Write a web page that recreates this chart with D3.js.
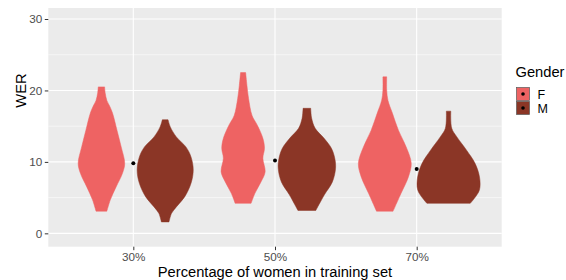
<!DOCTYPE html>
<html>
<head>
<meta charset="utf-8">
<script src="https://cdn.jsdelivr.net/npm/d3@7"></script>
<style>
  html, body { margin: 0; padding: 0; background: #ffffff; }
  svg { display: block; font-family: "Liberation Sans", Arial, Helvetica, sans-serif; }
</style>
</head>
<body>
<svg id="chart" width="566" height="280"></svg>
<script>
// ---------------- data ----------------
const categories = ["30%", "50%", "70%"];
const genders = ["F", "M"];
const genderColors = ["#EE6363", "#8B3626"];
const yTicks = [0, 10, 20, 30];
const yMinorTicks = [5, 15, 25];
// overall mean WER per training mix (black points)
const meanWER = [9.8, 10.2, 9.0];

// violin profiles: [WER, relative density (1 = widest violin)]
const violinF30 = [[3.1,0.17],[4.7,0.28],[6.5,0.46],[8.4,0.66],[9.8,0.73],[12.1,0.62],[14.4,0.49],[16.8,0.35],[17.7,0.27],[18.6,0.17],[19.6,0.12],[20.5,0.10]];
const violinM30 = [[1.6,0.12],[2.8,0.20],[3.7,0.35],[5.1,0.61],[7.0,0.81],[8.85,0.88],[10.7,0.81],[12.1,0.65],[13.5,0.35],[14.9,0.16],[15.9,0.09]];
const violinF50 = [[4.2,0.25],[5.6,0.37],[7.2,0.56],[8.6,0.69],[10.5,0.62],[11.9,0.67],[13.3,0.62],[15.1,0.45],[16.5,0.28],[18.9,0.17],[20.7,0.12],[22.5,0.08]];
const violinM50 = [[3.2,0.28],[5.4,0.55],[7.2,0.80],[9.1,0.90],[10.5,0.875],[11.9,0.77],[13.3,0.54],[14.7,0.26],[16.1,0.15],[17.5,0.12]];
const violinF70 = [[3.1,0.26],[5.6,0.51],[7.9,0.74],[9.8,0.83],[12.1,0.67],[14.4,0.43],[16.8,0.24],[18.6,0.10],[20.0,0.06],[21.9,0.06]];
const violinM70 = [[4.2,0.68],[4.9,0.81],[6.1,0.97],[7.9,0.97],[9.8,0.83],[11.6,0.57],[13.5,0.26],[14.7,0.10],[17.1,0.07]];

const violins = [
  { cat: "30%", gender: "F", profile: violinF30 },
  { cat: "30%", gender: "M", profile: violinM30 },
  { cat: "50%", gender: "F", profile: violinF50 },
  { cat: "50%", gender: "M", profile: violinM50 },
  { cat: "70%", gender: "F", profile: violinF70 },
  { cat: "70%", gender: "M", profile: violinM70 }
];

// ---------------- layout ----------------
const panel = { left: 48.3, right: 501.7, top: 8, bottom: 246.7 };
const svg = d3.select("#chart");

const x = d3.scalePoint().domain(categories).range([panel.left, panel.right]).padding(0.6);
const step = x.step();
const y = d3.scaleLinear().domain([-1.87, 31.54]).range([panel.bottom, panel.top]);
const dodge = d3.scaleOrdinal().domain(genders).range([-0.225 * step, 0.225 * step]);
const halfW = d3.scaleLinear().domain([0, 1]).range([0, 0.225 * step]);
const color = d3.scaleOrdinal().domain(genders).range(genderColors);

// panel background
svg.append("rect")
  .attr("x", panel.left).attr("y", panel.top)
  .attr("width", panel.right - panel.left).attr("height", panel.bottom - panel.top)
  .attr("fill", "#EBEBEB");

// grid
svg.append("g").selectAll("line").data(yMinorTicks).join("line")
  .attr("x1", panel.left).attr("x2", panel.right)
  .attr("y1", d => y(d)).attr("y2", d => y(d))
  .attr("stroke", "#ffffff").attr("stroke-width", 0.55);
svg.append("g").selectAll("line").data(yTicks).join("line")
  .attr("x1", panel.left).attr("x2", panel.right)
  .attr("y1", d => y(d)).attr("y2", d => y(d))
  .attr("stroke", "#ffffff").attr("stroke-width", 1.1);
svg.append("g").selectAll("line").data(categories).join("line")
  .attr("x1", d => x(d)).attr("x2", d => x(d))
  .attr("y1", panel.top).attr("y2", panel.bottom)
  .attr("stroke", "#ffffff").attr("stroke-width", 1.1);

// violins
const area = d3.area()
  .curve(d3.curveCatmullRom.alpha(0.5));
svg.append("g").selectAll("path").data(violins).join("path")
  .attr("d", v => {
    const cx = x(v.cat) + dodge(v.gender);
    return area
      .y(d => y(d[0]))
      .x0(d => cx - halfW(d[1]))
      .x1(d => cx + halfW(d[1]))(v.profile);
  })
  .attr("fill", v => color(v.gender))
  .attr("stroke", v => color(v.gender))
  .attr("stroke-width", 0.5);

// mean points
svg.append("g").selectAll("circle").data(categories).join("circle")
  .attr("cx", d => x(d))
  .attr("cy", (d, i) => y(meanWER[i]))
  .attr("r", 2)
  .attr("fill", "#000000");

// axes
const yAxis = d3.axisLeft(y).tickValues(yTicks).tickSize(3.5).tickPadding(2.5);
const gy = svg.append("g").attr("transform", `translate(${panel.left},0)`).call(yAxis);
gy.select(".domain").remove();
gy.selectAll(".tick line").attr("stroke", "#333333").attr("stroke-width", 1);
gy.selectAll(".tick text").attr("fill", "#4D4D4D").style("font-size", "11.7px").attr("font-family", null);

const xAxis = d3.axisBottom(x).tickSize(3.5).tickPadding(2.5);
const gx = svg.append("g").attr("transform", `translate(0,${panel.bottom})`).call(xAxis);
gx.select(".domain").remove();
gx.selectAll(".tick line").attr("stroke", "#333333").attr("stroke-width", 1);
gx.selectAll(".tick text").attr("fill", "#4D4D4D").style("font-size", "11.7px").attr("font-family", null);

// axis titles
svg.append("text")
  .attr("x", (panel.left + panel.right) / 2).attr("y", 277)
  .attr("text-anchor", "middle")
  .style("font-size", "14.7px").attr("fill", "#000")
  .text("Percentage of women in training set");

svg.append("text")
  .attr("transform", "translate(25.5,90.5) rotate(-90)")
  .attr("text-anchor", "middle")
  .style("font-size", "14.7px").attr("fill", "#000")
  .text("WER");

// legend
const lg = svg.append("g");
lg.append("text").attr("x", 515.5).attr("y", 77)
  .style("font-size", "14.7px").attr("fill", "#000").text("Gender");
const keys = lg.selectAll("g.key").data(genders).join("g").attr("class", "key")
  .attr("transform", (d, i) => `translate(516.5,${87.5 + i * 14})`);
keys.append("rect").attr("x", 0).attr("y", 0).attr("width", 13).attr("height", 13)
  .attr("fill", d => color(d)).attr("stroke", "#5a5a5a").attr("stroke-width", 0.7);
keys.append("circle").attr("cx", 6.5).attr("cy", 6.5).attr("r", 1.8).attr("fill", "#000");
keys.append("text").attr("x", 21).attr("y", 11.5)
  .style("font-size", "12.5px").attr("fill", "#000").text(d => d);
</script>
</body>
</html>
